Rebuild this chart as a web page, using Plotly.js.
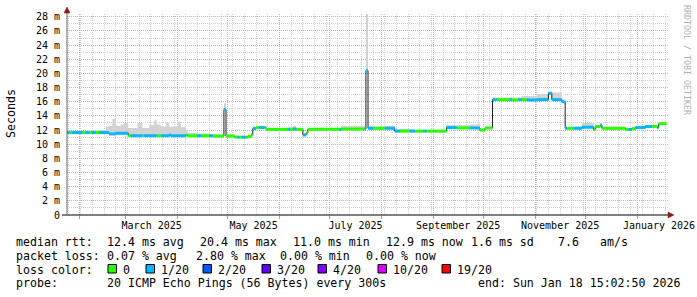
<!DOCTYPE html>
<html><head><meta charset="utf-8">
<script src="https://cdn.plot.ly/plotly-3.0.1.min.js"></script>
<style>html,body{margin:0;padding:0;background:#fff;} #chart{width:697px;height:297px;}</style>
</head><body><div id="chart"></div>
<script>
// ---------- data ----------
const segStart = [
'2025-01-24 20:00','2025-01-26 12:00','2025-01-27 18:00','2025-02-03 00:00','2025-02-05 00:00','2025-02-07 00:00','2025-02-08 12:00','2025-02-11 00:00','2025-02-13 00:00','2025-02-17 00:00',
'2025-02-19 00:00','2025-02-21 00:00','2025-02-23 00:00','2025-02-26 00:00','2025-02-28 00:00','2025-03-02 12:00','2025-03-04 00:00','2025-03-08 00:00','2025-03-11 00:00','2025-03-12 00:00',
'2025-03-15 00:00','2025-03-18 00:00','2025-03-19 12:00','2025-03-22 00:00','2025-03-25 00:00','2025-03-27 00:00','2025-03-28 00:00','2025-04-01 00:00','2025-04-03 00:00','2025-04-06 00:00',
'2025-04-07 00:00','2025-04-13 00:00','2025-04-15 00:00','2025-04-20 00:00','2025-04-22 00:00','2025-04-28 18:00','2025-04-30 00:00','2025-05-05 00:00','2025-05-07 00:00','2025-05-08 00:00',
'2025-05-09 12:00','2025-05-12 00:00','2025-05-13 00:00','2025-05-15 00:00','2025-05-16 00:00','2025-05-18 00:00','2025-05-20 00:00','2025-05-23 00:00','2025-05-24 00:00','2025-06-06 00:00',
'2025-06-07 00:00','2025-06-09 00:00','2025-06-11 00:00','2025-06-15 00:00','2025-06-17 00:00','2025-06-18 00:00','2025-07-07 00:00','2025-07-08 00:00','2025-07-22 00:00','2025-07-22 18:00',
'2025-07-24 00:00','2025-07-27 00:00','2025-08-03 00:00','2025-08-09 00:00','2025-08-12 00:00','2025-08-18 00:00','2025-08-21 00:00','2025-08-26 00:00','2025-08-28 00:00','2025-09-09 00:00',
'2025-09-15 00:00','2025-09-23 00:00','2025-09-27 00:00','2025-09-29 00:00','2025-10-02 00:00','2025-10-06 12:00','2025-10-09 00:00','2025-10-17 00:00','2025-10-18 00:00','2025-10-22 00:00',
'2025-10-24 00:00','2025-10-27 00:00','2025-11-02 00:00','2025-11-09 00:00','2025-11-11 00:00','2025-11-17 00:00','2025-11-19 00:00','2025-11-20 00:00','2025-11-24 00:00','2025-11-29 00:00',
'2025-12-06 00:00','2025-12-07 00:00','2025-12-10 00:00','2025-12-11 00:00','2025-12-25 00:00','2025-12-27 00:00','2025-12-29 00:00','2025-12-31 00:00','2026-01-06 00:00','2026-01-10 00:00',
'2026-01-13 00:00','2026-01-14 00:00'
];
const endTime = '2026-01-18 15:02';
const medianMs = [
11.65,11.65,11.65,11.65,11.65,11.65,11.65,11.65,11.65,11.65,
11.45,11.45,11.55,11.55,11.55,11.2,11.2,11.2,11.2,11.2,
11.2,11.2,11.2,11.2,11.2,11.3,11.2,11.2,11.2,11.3,
11.2,11.2,11.2,11.2,11.15,14.9,11.15,11.0,11.0,11.0,
11.0,11.0,11.1,11.3,12.2,12.35,12.35,12.35,12.1,12.1,
12.1,12.15,12.1,11.3,11.6,12.1,12.1,12.15,12.15,20.4,
12.25,12.25,12.25,11.85,11.85,11.85,11.85,11.85,11.85,12.35,
12.3,12.3,12.3,12.0,12.3,16.3,16.3,16.3,16.25,16.3,
16.3,16.25,16.3,17.2,16.3,16.0,12.25,12.25,12.25,12.4,
12.1,12.5,12.7,12.25,12.1,12.1,12.2,12.35,12.5,12.5,
12.35,12.9
];
const lossPings = [
1,0,1,0,1,0,1,0,1,1,
1,1,1,1,1,0,1,1,0,1,
1,1,0,1,1,1,1,1,1,0,
0,1,0,1,0,1,0,0,1,0,
1,0,0,0,1,0,1,0,0,1,
0,1,0,1,0,0,1,0,1,1,
1,0,1,1,0,1,0,1,0,1,
0,1,1,0,0,1,0,1,0,1,
0,1,1,1,1,1,1,0,1,1,
0,0,1,0,0,1,0,1,1,0,
1,0
];
const smokeMaxMs = [
11.85,11.85,11.9,11.85,11.9,11.9,11.95,11.9,12.0,12.5,
12.6,13.6,12.6,12.8,13.0,12.3,12.3,13.0,12.3,12.3,
12.7,13.4,12.8,12.5,13.0,12.5,12.5,13.2,12.4,12.0,
11.6,11.5,11.5,11.4,11.4,15.8,11.4,11.2,11.2,11.15,
11.15,11.15,11.3,11.5,12.5,12.6,12.6,12.5,12.3,12.4,
12.4,12.6,12.3,11.5,11.8,12.3,12.3,12.6,12.4,28.6,
12.5,12.5,12.6,12.1,12.2,12.1,12.0,12.0,12.0,12.7,
12.7,12.8,12.9,12.2,12.4,16.6,16.6,16.7,16.6,16.6,
16.8,16.8,17.1,17.4,17.3,16.3,12.5,12.4,12.5,13.0,
12.3,12.7,12.9,12.4,12.3,12.3,12.3,12.5,12.7,12.7,
12.6,13.0
];
const lossLevels = [0, 1, 2, 3, 4, 10, 19];
const lossLabels = ['0', '1/20', '2/20', '3/20', '4/20', '10/20', '19/20'];
const lossColors = ['#26ff00', '#00b8ff', '#0059ff', '#5e00ff', '#7e00ff', '#dd00ff', '#ff0000'];
const monthTicks = ['2025-02-01','2025-03-01','2025-04-01','2025-05-01','2025-06-01','2025-07-01','2025-08-01','2025-09-01','2025-10-01','2025-11-01','2025-12-01','2026-01-01'];
const monthLabelPos = ['2025-03-16 12:00','2025-05-16 12:00','2025-07-16 12:00','2025-09-16 00:00','2025-11-16 00:00','2026-01-14 04:00'];
const monthLabelText = ['March 2025','May 2025','July 2025','September 2025','November 2025','January 2026'];
const yTickVals = [0,2,4,6,8,10,12,14,16,18,20,22,24,26,28];
const yTickText = ['0','2 m','4 m','6 m','8 m','10 m','12 m','14 m','16 m','18 m','20 m','22 m','24 m','26 m','28 m'];
const rttLine = [['median rtt:',16],['12.4 ms avg',107],['20.4 ms max',200],['11.0 ms min',293],['12.9 ms now',386],['1.6 ms sd',471],['7.6',558],['am/s',600]];
const lossLine = [['packet loss:',16],['0.07 % avg',107],['2.80 % max',196],['0.00 % min',280],['0.00 % now',366]];
const probeLine = [['probe:',16],['20 ICMP Echo Pings (56 Bytes) every 300s',107],['end: Sun Jan 18 15:02:50 2026',478]];
const lossBoxX = [108,146,203,262,318,378,442];

// ---------- geometry ----------
const W = 697, H = 297, L = 67, R = 28, T = 14, B = 82;
const PW = W - L - R, PH = H - T - B;
const px = x => (x - L) / PW;
const py = y => (H - B - y) / PH;
const mono = 'DejaVu Sans Mono, monospace';

// ---------- traces ----------
const xs = segStart.concat([endTime]);
const medExt = medianMs.concat([medianMs[medianMs.length - 1]]);
const smokeExt = smokeMaxMs.concat([smokeMaxMs[smokeMaxMs.length - 1]]);

const traces = [];
traces.push({x: xs, y: medExt, mode: 'lines', line: {width: 0, shape: 'hv'}, hoverinfo: 'skip', showlegend: false});
traces.push({x: xs, y: smokeExt, mode: 'lines', line: {width: 0, shape: 'hv'}, fill: 'tonexty', fillcolor: '#d2d2d2', hoverinfo: 'skip', showlegend: false});
traces.push({x: xs, y: medExt, mode: 'lines', line: {width: 1, shape: 'hv', color: '#202020'}, hoverinfo: 'skip', showlegend: false});
lossLevels.forEach((lv, k) => {
  const sx = [], sy = [];
  for (let i = 0; i < medianMs.length; i++) {
    if (lossPings[i] === lv) { sx.push(xs[i], xs[i + 1], null); sy.push(medianMs[i], medianMs[i], null); }
  }
  if (sx.length) traces.push({x: sx, y: sy, mode: 'lines', line: {width: 3, color: lossColors[k]}, hoverinfo: 'skip', showlegend: false, connectgaps: false});
});
// invisible carrier so the label axis (x2) is drawn
traces.push({x: monthLabelPos, y: monthLabelPos.map(() => 0), xaxis: 'x2', mode: 'markers', marker: {opacity: 0, size: 1}, hoverinfo: 'skip', showlegend: false});

// ---------- annotations & shapes ----------
const ann = [];
const addText = (txt, x, y, size, opts) => ann.push(Object.assign({text: txt, xref: 'paper', yref: 'paper', x: px(x), y: py(y), xanchor: 'left', yanchor: 'middle', showarrow: false, borderpad: 0, font: {family: mono, size: size || 11.6, color: '#000'}}, opts || {}));
rttLine.forEach(c => addText(c[0], c[1] - 1, 241.5));
lossLine.forEach(c => addText(c[0], c[1] - 1, 255.5));
addText('loss color:', 15, 269.5);
lossLabels.forEach((lb, k) => addText(lb, lossBoxX[k] + 14, 269.5));
probeLine.forEach(c => addText(c[0], c[1] - 1, 283));
ann.push({text: 'Seconds', xref: 'paper', yref: 'paper', x: px(11), y: py(114), xanchor: 'center', yanchor: 'middle', textangle: -90, showarrow: false, font: {family: mono, size: 11.6, color: '#000'}});
ann.push({text: 'RRDTOOL / TOBI OETIKER', xref: 'paper', yref: 'paper', x: px(687), y: py(60), xanchor: 'center', yanchor: 'middle', textangle: 90, showarrow: false, font: {family: mono, size: 8.3, color: '#b0b0b0'}});

const shapes = [];
lossBoxX.forEach((bx, k) => shapes.push({type: 'rect', xref: 'paper', yref: 'paper', x0: px(bx), x1: px(bx + 8.5), y0: py(273), y1: py(264.5), fillcolor: lossColors[k], line: {color: '#000', width: 1}}));
// axis extension and arrows
shapes.push({type: 'line', xref: 'paper', yref: 'paper', x0: px(62), x1: px(669), y0: 0, y1: 0, line: {color: '#000', width: 1}});
shapes.push({type: 'path', xref: 'paper', yref: 'paper', path: `M ${px(668)} ${py(212)} L ${px(674)} ${py(215)} L ${px(668)} ${py(218)} Z`, fillcolor: '#8b1a1a', line: {color: '#8b1a1a', width: 0.5}});
shapes.push({type: 'line', xref: 'paper', yref: 'paper', x0: 0, x1: 0, y0: 0, y1: py(11), line: {color: '#666', width: 1}});
shapes.push({type: 'path', xref: 'paper', yref: 'paper', path: `M ${px(64)} ${py(13)} L ${px(67)} ${py(7)} L ${px(70)} ${py(13)} Z`, fillcolor: '#8b1a1a', line: {color: '#8b1a1a', width: 0.5}});

const xRange = ['2025-01-24 19:40', '2026-01-20 03:40'];
const layout = {
  width: W, height: H,
  margin: {l: L, r: R, t: T, b: B, pad: 0},
  paper_bgcolor: '#fff', plot_bgcolor: '#fff',
  showlegend: false,
  xaxis: {type: 'date', range: xRange, tickmode: 'array', tickvals: monthTicks, showticklabels: false,
    ticks: 'outside', ticklen: 3, tickcolor: '#e08a8a', showgrid: true, gridcolor: '#f0a0a0', griddash: '1px,1px', gridwidth: 1,
    minor: {tick0: '2025-01-26', dtick: 604800000, showgrid: true, gridcolor: '#cfcfcf', griddash: '1px,1px', ticks: ''},
    showline: false, zeroline: false, fixedrange: true},
  xaxis2: {type: 'date', overlaying: 'x', anchor: 'y', side: 'bottom', range: xRange, tickmode: 'array', tickvals: monthLabelPos, ticktext: monthLabelText,
    showgrid: false, showline: false, zeroline: false, ticks: '', ticklabelstandoff: 3, ticklabeloverflow: 'allow', tickfont: {family: mono, size: 10, color: '#000'}, fixedrange: true},
  yaxis: {range: [0, 28.4], tickmode: 'array', tickvals: yTickVals, ticktext: yTickText, showgrid: true, gridcolor: '#f0a0a0', griddash: '1px,1px',
    minor: {dtick: 1, tick0: 0, showgrid: true, gridcolor: '#cfcfcf', griddash: '1px,1px', ticks: ''},
    showline: false, zeroline: false, ticks: '', ticklabelstandoff: 6, tickfont: {family: mono, size: 10, color: '#000'}, fixedrange: true},
  annotations: ann,
  shapes: shapes
};
Plotly.newPlot('chart', traces, layout, {staticPlot: true, displayModeBar: false});
</script>
</body></html>
